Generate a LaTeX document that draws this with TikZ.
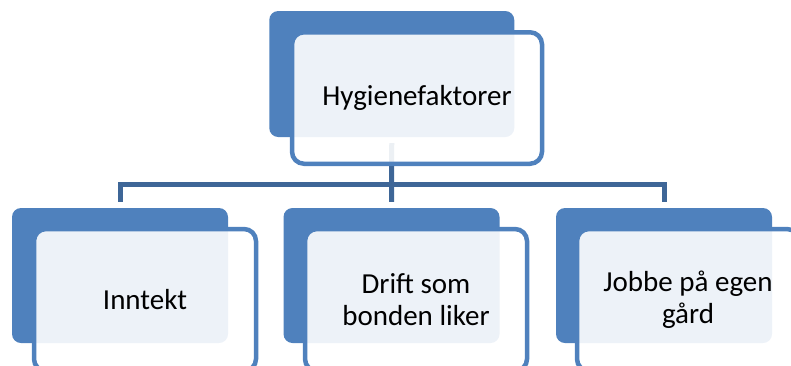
\documentclass[tikz,border=0pt]{standalone}
\usepackage{fontspec}
\setmainfont{Carlito}
\usepackage{tikz}

\definecolor{boxColor}{RGB}{79,129,189}
\definecolor{linkColor}{RGB}{62,102,151}
\tikzset{
  backbox/.style={rectangle, rounded corners=9pt, fill=boxColor, inner sep=0pt},
  textbox/.style={rectangle, rounded corners=12pt, draw=boxColor, line width=4.5pt,
    fill=white, fill opacity=0.9, text opacity=1, inner sep=0pt,
    minimum width=222pt, minimum height=142pt, align=center,
    font=\fontsize{29}{32}\selectfont},
  link/.style={draw=linkColor, line width=5pt}
}

\begin{document}
\begin{tikzpicture}[x=1pt,y=-1pt]
\useasboundingbox (0,0) rectangle (791,365);
\clip (0,0) rectangle (791,365);
% back boxes
\node[backbox, minimum width=245pt, minimum height=126pt] (hygBack) at (391.75,74) {};
\foreach \name/\x in {innBack/120, driftBack/391.5, jobbBack/664}
  \node[backbox, minimum width=216pt, minimum height=135pt] (\name) at (\x,275.5) {};
% connectors
\draw[link] ([yshift=-6pt]hygBack.south) -- ([yshift=6pt]driftBack.north);
\draw[link] ([yshift=6pt]innBack.north) -- ++(0,-17.5) -| ([yshift=6pt]jobbBack.north);
% text boxes
\node[textbox, minimum width=250pt, minimum height=131.5pt] (hyg) at (417,98) {Hygienefaktorer};
\node[textbox] (inn) at (145,300) {Inntekt};
\node[textbox] (drift) at (416,300) {Drift som\\bonden liker};
\node[textbox] (jobb) at (688,300) {Jobbe på egen\\gård};
\end{tikzpicture}
\end{document}
